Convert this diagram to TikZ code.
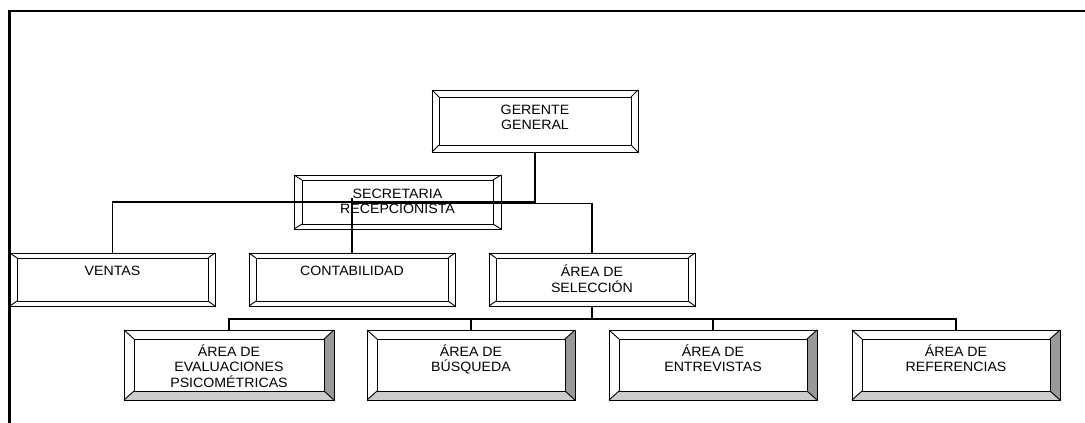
\documentclass[tikz,border=0pt]{standalone}
\usepackage{fontspec}
\setmainfont{Liberation Sans}[FakeStretch=1.05]
\definecolor{bevelDark}{gray}{0.6}
\definecolor{bevelLight}{gray}{0.8}

% Bevelled box: #1 shading (flat/shade), #2 name, #3 centre, #4 width, #5 height,
% #6 #7 bevel sizes, #8 first baseline below top edge, #9 text
\newcommand{\orgbox}[9]{%
  \node[boxnode, minimum width=#4pt, minimum height=#5pt] (#2) at #3 {};
  \coordinate (#2-a) at ([shift={(#6,#7)}]#2.north west);
  \coordinate (#2-b) at ([shift={(-#6,#7)}]#2.north east);
  \coordinate (#2-c) at ([shift={(-#6,-#7)}]#2.south east);
  \coordinate (#2-d) at ([shift={(#6,-#7)}]#2.south west);
  \fill[#1-r] (#2.north east) -- (#2.south east) -- (#2-c) -- (#2-b) -- cycle;
  \fill[#1-b] (#2.south west) -- (#2.south east) -- (#2-c) -- (#2-d) -- cycle;
  \draw[bevel] (#2-a) rectangle (#2-c);
  \draw[bevel] (#2.north west) -- (#2-a) (#2.north east) -- (#2-b)
               (#2.south east) -- (#2-c) (#2.south west) -- (#2-d);
  \draw[bevel] (#2.north west) rectangle (#2.south east);
  \node[boxtext] (#2-t) at ([shift={(0,#8)}]#2.north) {\parbox[t]{#4pt}{\centering #9}};
}

\begin{document}
\begin{tikzpicture}[x=1pt,y=-1pt,
  boxnode/.style={inner sep=0pt, outer sep=0pt, fill=white},
  bevel/.style={draw=black, line width=0.9pt},
  link/.style={draw=black, line width=1.8pt},
  frame/.style={draw=black, line width=2.2pt},
  boxtext/.style={font=\fontsize{13.5}{15.5}\selectfont, inner sep=0pt, anchor=base},
  flat-r/.style={fill=white}, flat-b/.style={fill=white},
  shade-r/.style={fill=bevelDark}, shade-b/.style={fill=bevelLight}]
\useasboundingbox (0,0) rectangle (1085,423);

% page frame (top and left rules)
\draw[frame] (9.5,423) -- (9.5,11) -- (1085,11);

% top levels
\orgbox{flat}{gerente}{(535,121)}{206}{62}{7}{7}{24}{GERENTE\\GENERAL}
\orgbox{flat}{secretaria}{(397.5,202)}{207}{54}{8}{5}{23}{SECRETARIA\\RECEPCIONISTA}

% departments
\orgbox{flat}{ventas}{(112.5,279.5)}{205}{53}{7}{5}{22.5}{VENTAS}
\orgbox{flat}{contabilidad}{(352,279.5)}{206}{53}{7}{5}{22.5}{CONTABILIDAD}
\orgbox{flat}{seleccion}{(592,279.5)}{206}{53}{7}{5}{23.5}{ÁREA DE\\SELECCIÓN}

% selection areas
\orgbox{shade}{evaluaciones}{(229,365)}{210}{70}{10}{9}{26}{ÁREA DE\\EVALUACIONES\\PSICOMÉTRICAS}
\orgbox{shade}{busqueda}{(471,365)}{208}{70}{10}{9}{26}{ÁREA DE\\BÚSQUEDA}
\orgbox{shade}{entrevistas}{(713,365)}{208}{70}{10}{9}{26}{ÁREA DE\\ENTREVISTAS}
\orgbox{shade}{referencias}{(956,365)}{208}{70}{10}{9}{26}{ÁREA DE\\REFERENCIAS}

% connectors
\coordinate (tap) at (352,198);
\coordinate (busR) at (352,203.5);
\draw[link] (gerente.south) -- ++(0,50) -| (ventas.north);
\draw[link] (tap) -- (contabilidad.north);
\draw[link] (busR) -| (seleccion.north);
\draw[link] (seleccion.south) -- ++(0,13);
\draw[link] (evaluaciones.north) -- ++(0,-11) -| (referencias.north);
\draw[link] (busqueda.north) -- ++(0,-11);
\draw[link] (entrevistas.north) -- ++(0,-11);
\end{tikzpicture}
\end{document}
